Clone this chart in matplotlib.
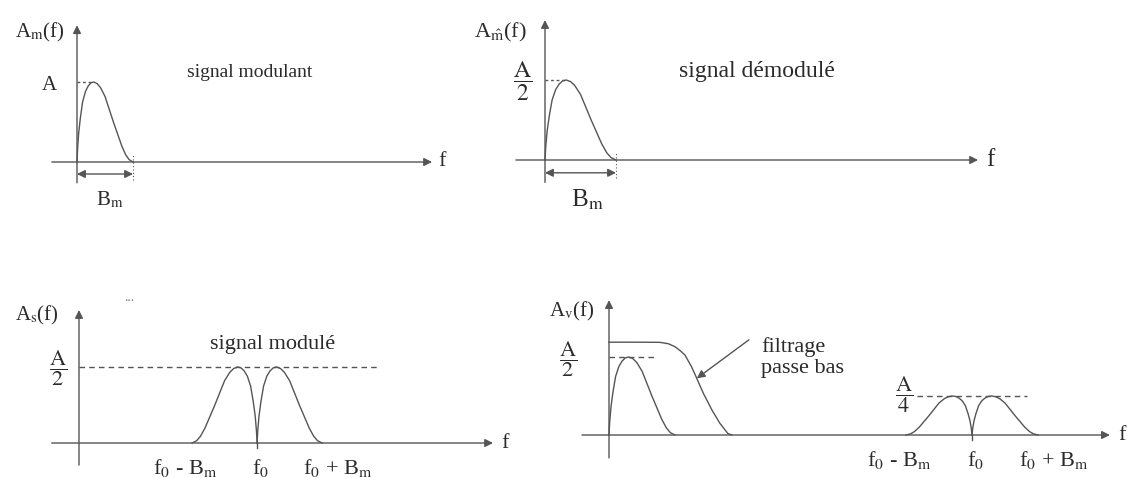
import numpy as np
import matplotlib
matplotlib.use('Agg')
import matplotlib.pyplot as plt

plt.rcParams['font.family'] = ['Liberation Serif', 'DejaVu Serif']
plt.rcParams['mathtext.fontset'] = 'stix'

# spectre du signal modulant (f en unites de Bm, amplitude en unites de A)
f_base = [0, 0.01, 0.03, 0.06, 0.1, 0.15, 0.2, 0.25, 0.3, 0.36, 0.42, 0.5,
          0.58, 0.65, 0.72, 0.8, 0.87, 0.93, 1.0]
a_base = [0, 0.16, 0.36, 0.55, 0.75, 0.88, 0.95, 0.99, 1.0, 0.98, 0.93, 0.82,
          0.65, 0.5, 0.36, 0.2, 0.09, 0.03, 0]

# gabarit du filtre passe bas (f en unites de Bm, amplitude en unites de A)
f_filtre = [0, 0.4, 0.77, 0.9, 1.0, 1.08, 1.15, 1.25, 1.33, 1.43, 1.56, 1.68, 1.8, 1.86]
a_filtre = [0.595, 0.595, 0.594, 0.585, 0.566, 0.54, 0.513, 0.438, 0.363, 0.267,
            0.16, 0.075, 0.01, 0]

# porteuses (en unites de Bm)
f0_mod = 2.74
f0_dem = 5.5

GRIS = '#555555'
TXT = '#2a2a2a'
W, H = 1129, 478

fb = np.array(f_base)
ab = np.array(a_base)

fig = plt.figure(figsize=(W / 100, H / 100), dpi=100)


def panneau(ox, oy, sx, sy):
    # un repere par schema, origine (ox, oy) en pixels, sx/sy pixels par unite
    ax = fig.add_axes([0, 0, 1, 1])
    ax.set_xlim(-ox / sx, (W - ox) / sx)
    ax.set_ylim(-(H - oy) / sy, oy / sy)
    ax.axis('off')
    ax.patch.set_alpha(0)
    return ax


def fleche(ax, xy, xytext, style='-|>'):
    ax.annotate('', xy=xy, xytext=xytext,
                arrowprops=dict(arrowstyle=style, color=GRIS, lw=1.0,
                                mutation_scale=12, shrinkA=0, shrinkB=0))


def axes_fleches(ax, x0, x1, y0, y1, fs):
    fleche(ax, (x1, 0), (x0, 0))
    fleche(ax, (0, y1), (0, y0))
    ax.text(x1 + 0.12, 0, 'f', ha='left', va='center', fontsize=fs, color=TXT)


def spectre_module(ax, f0, amp):
    # bandes laterales autour de f0
    ax.plot(f0 + fb, amp * ab, color=GRIS, lw=1.0)
    ax.plot(f0 - fb, amp * ab, color=GRIS, lw=1.0)
    ax.plot([f0, f0], [-0.03, 0], color=GRIS, lw=1.0)


def etiquettes_f0(ax, f0, y, fs):
    ax.text(f0 - 1.1, y, r'f$_0$ - B$_\mathrm{m}$', ha='center', va='center', fontsize=fs, color=TXT)
    ax.text(f0 + 0.06, y, r'f$_0$', ha='center', va='center', fontsize=fs, color=TXT)
    ax.text(f0 + 1.24, y, r'f$_0$ + B$_\mathrm{m}$', ha='center', va='center', fontsize=fs, color=TXT)


def fraction(ax, x, y, den, fs):
    ax.text(x, y, r'$\dfrac{\mathrm{A}}{%s}$' % den, ha='center', va='center',
            fontsize=fs, color=TXT)


# --- signal modulant ---
ax1 = panneau(77, 162, 56, 80)
axes_fleches(ax1, -0.45, 6.34, -0.26, 1.71, 16)
ax1.plot(fb, ab, color=GRIS, lw=1.0)
ax1.plot([0, 0.28], [1, 1], color=GRIS, lw=1.0, ls=(0, (2, 2)))
ax1.plot([1, 1], [-0.22, 0.1], color=GRIS, lw=0.8, ls=(0, (1, 2)))
fleche(ax1, (1, -0.15), (0, -0.15), style='<|-|>')
ax1.text(-0.66, 1.62, r'A$_\mathrm{m}$(f)', ha='center', va='center', fontsize=15, color=TXT)
ax1.text(-0.5, 0.95, 'A', ha='center', va='center', fontsize=15, color=TXT)
ax1.text(0.59, -0.48, r'B$_\mathrm{m}$', ha='center', va='center', fontsize=15, color=TXT)
ax1.text(3.09, 1.12, 'signal modulant', ha='center', va='center', fontsize=14, color=TXT)

# --- signal demodule ---
ax2 = panneau(545, 160, 71, 160)
axes_fleches(ax2, -0.41, 6.1, -0.14, 0.875, 18)
ax2.plot(fb, 0.5 * ab, color=GRIS, lw=1.0)
ax2.plot([0, 0.28], [0.5, 0.5], color=GRIS, lw=1.0, ls=(0, (2, 2)))
ax2.plot([1, 1], [-0.11, 0.05], color=GRIS, lw=0.8, ls=(0, (1, 2)))
fleche(ax2, (1, -0.08), (0, -0.08), style='<|-|>')
ax2.text(-0.63, 0.8, r'A$_{\hat{\mathrm{m}}}$(f)', ha='center', va='center', fontsize=16, color=TXT)
fraction(ax2, -0.31, 0.49, '2', 17)
ax2.text(0.59, -0.25, r'B$_\mathrm{m}$', ha='center', va='center', fontsize=18, color=TXT)
ax2.text(2.99, 0.55, 'signal démodulé', ha='center', va='center', fontsize=17, color=TXT)

# --- signal module ---
ax3 = panneau(79, 443, 65, 152)
axes_fleches(ax3, -0.42, 6.37, -0.145, 0.875, 16)
spectre_module(ax3, f0_mod, 0.5)
ax3.plot([0, f0_mod + 1.84], [0.5, 0.5], color=GRIS, lw=1.0, ls=(0, (4, 3)))
ax3.text(-0.65, 0.84, r'A$_\mathrm{s}$(f)', ha='center', va='center', fontsize=15, color=TXT)
fraction(ax3, -0.32, 0.49, '2', 16)
ax3.text(2.98, 0.645, 'signal modulé', ha='center', va='center', fontsize=16, color=TXT)
ax3.text(0.77, 0.96, '...', ha='center', va='center', fontsize=10, color='#777777')
etiquettes_f0(ax3, f0_mod, -0.165, 16)

# --- apres filtrage ---
ax4 = panneau(609, 435, 66, 156)
axes_fleches(ax4, -0.41, 7.59, -0.147, 0.865, 16)
ax4.plot(fb, 0.5 * ab, color=GRIS, lw=1.0)
ax4.plot(f_filtre, a_filtre, color=GRIS, lw=1.0)
ax4.plot([0, 0.7], [0.5, 0.5], color=GRIS, lw=1.0, ls=(0, (4, 3)))
spectre_module(ax4, f0_dem, 0.25)
ax4.plot([f0_dem - 0.83, f0_dem + 0.83], [0.25, 0.25], color=GRIS, lw=1.0, ls=(0, (4, 3)))
ax4.text(-0.56, 0.79, r'A$_\mathrm{v}$(f)', ha='center', va='center', fontsize=15, color=TXT)
fraction(ax4, -0.62, 0.49, '2', 16)
fraction(ax4, f0_dem - 1.03, 0.26, '4', 16)
ax4.text(2.3, 0.495, 'filtrage\npasse bas', ha='left', va='center', fontsize=16,
         color=TXT, linespacing=1.15)
fleche(ax4, (f_filtre[8], a_filtre[8]), (2.12, 0.61))
etiquettes_f0(ax4, f0_dem, -0.16, 16)

fig.savefig('out.png', dpi=100)
